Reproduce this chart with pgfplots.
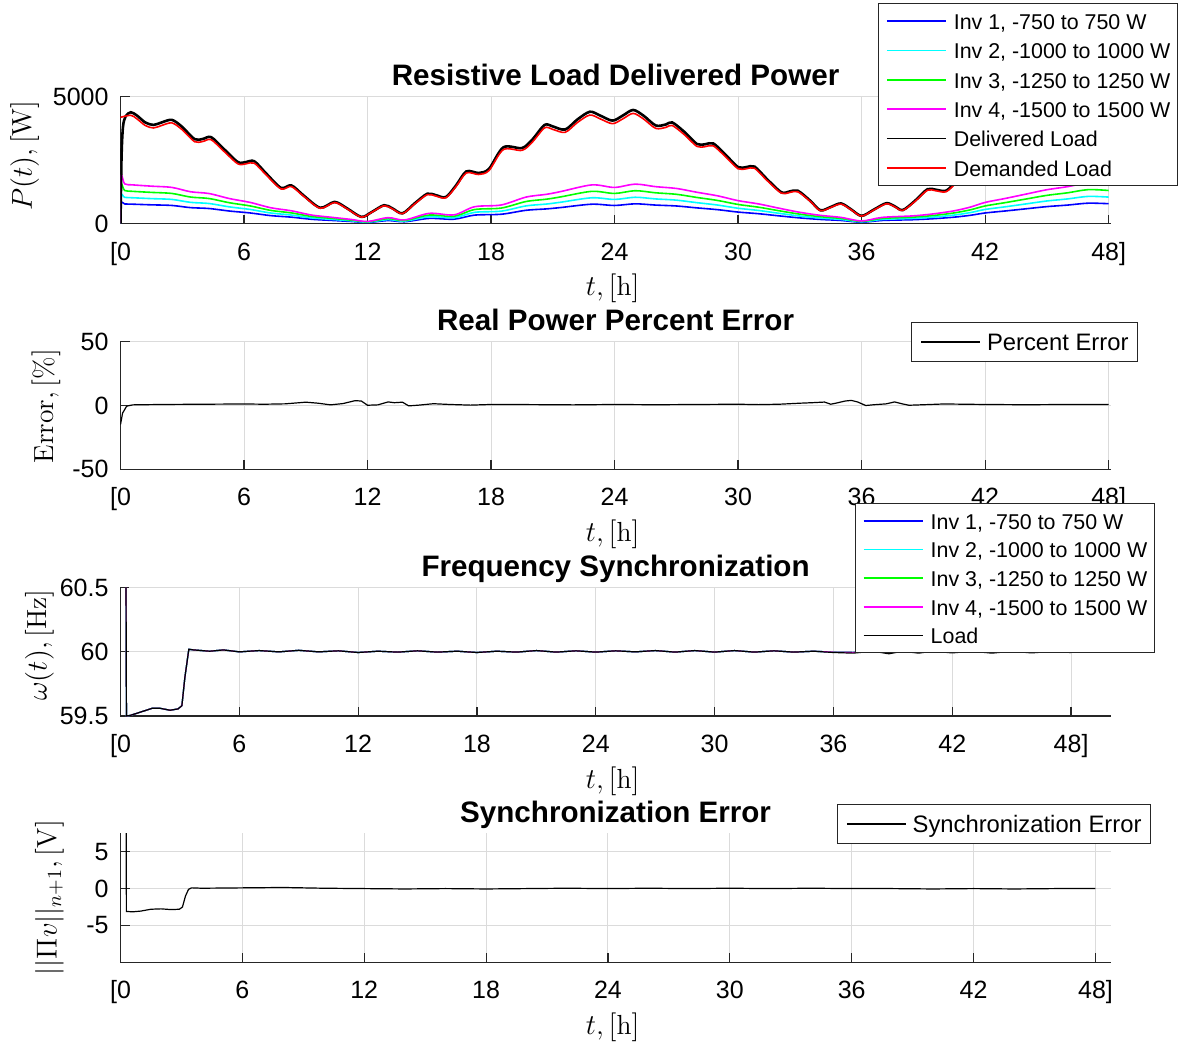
\documentclass[border=0pt]{standalone}
\usepackage{fontspec}
\usepackage{pgfplots}
\pgfplotsset{compat=1.18}
\usepackage{pgfplotstable}
\newfontfamily\lsans{Liberation Sans}
\newcommand\tickfont{\lsans\fontsize{12.5}{14}\selectfont}
\newcommand\titlefont{\lsans\bfseries\fontsize{14.8}{17}\selectfont}
\newcommand\legfontA{\lsans\fontsize{10.7}{13}\selectfont}
\newcommand\legfontB{\lsans\fontsize{11.9}{14}\selectfont}
\newcommand\labfont{\fontsize{13.8}{16}\selectfont}

\definecolor{axgray}{gray}{0.15}
\definecolor{cblue}{rgb}{0,0,1}
\definecolor{ccyan}{rgb}{0,1,1}
\definecolor{cgreen}{rgb}{0,1,0}
\definecolor{cmag}{rgb}{1,0,1}
\definecolor{cred}{rgb}{1,0,0}

\pgfplotsset{
  mystyle/.style={
    scale only axis, width=495.1pt,
    axis lines=left,
    axis line style={-, draw=axgray, line width=0.6pt},
    x axis line style={-}, y axis line style={-},
    tick align=inside, major tick length=4.5pt,
    tick style={draw=axgray, line width=0.6pt},
    grid=major, major grid style={draw=black!14, line width=0.5pt},
    xmin=0, xtick={0,6,12,18,24,30,36,42,48},
    xticklabels={{[0},6,12,18,24,30,36,42,{48]}},
    xticklabel style={font=\tickfont, anchor=base, yshift=-18.25pt, inner sep=0pt},
    yticklabel style={font=\tickfont, anchor=east, xshift=-5.8pt, inner sep=0pt},
    xlabel={$t, [\mathrm{h}]$},
    xlabel style={font=\labfont, at={(axis description cs:0.5,0)}, anchor=base, yshift=-36pt, xshift=-1.5pt},
    ylabel style={font=\labfont, anchor=center},
    title style={font=\titlefont, at={(0.5,1)}, anchor=base, yshift=-0.5pt},
    anchor=south west,
    legend cell align=left,
    legend image code/.code={\draw[#1, line width=0.8pt] (0pt,0pt) -- (29.5pt,0pt);},
  },
  legA/.style={legend style={font=\legfontA, draw=axgray, line width=0.5pt, fill=white,
     inner xsep=3.6pt, inner ysep=2.5pt, row sep=2.2pt, column sep=3.6pt,
     nodes={inner sep=0pt, text height=10.4pt, text depth=2.1pt}}},
  legB/.style={legend style={font=\legfontB, draw=axgray, line width=0.5pt, fill=white,
     inner xsep=4.5pt, inner ysep=2.5pt, column sep=3pt,
     nodes={inner sep=0pt, text height=11.5pt, text depth=3.0pt}}},
}

% ---------------- Panel 1 data ----------------
\pgfplotstableread{
t v
0 0
0.05 2600
0.12 3800
0.25 4220
0.5 4380
0.8 4250
1.2 3980
1.6 3880
2.0 3980
2.5 4080
3.0 3800
3.6 3320
4.0 3330
4.4 3400
5.0 2950
5.7 2420
6.1 2420
6.5 2450
7.1 1950
7.8 1400
8.3 1500
8.9 1100
9.7 620
10.4 850
11.0 600
11.7 260
12.2 450
12.8 720
13.2 600
13.7 400
14.3 800
14.9 1170
15.3 1120
15.8 1040
16.3 1500
16.8 2050
17.4 1990
17.9 2150
18.6 3000
19.5 2970
20.0 3300
20.6 3880
21.0 3820
21.6 3700
22.2 4100
22.8 4400
23.3 4250
23.9 4050
24.4 4250
24.9 4470
25.4 4250
26.0 3860
26.5 3900
26.8 3980
27.4 3600
28.0 3130
28.4 3120
28.8 3150
29.4 2700
30.0 2220
30.4 2220
30.8 2240
31.4 1750
32.1 1230
32.5 1260
32.9 1290
33.5 900
34.0 520
34.5 650
35.0 790
35.5 550
36.0 300
36.6 550
37.2 800
37.6 680
38.0 530
38.6 900
39.2 1350
39.6 1330
40.1 1290
40.6 1650
41.2 2050
41.7 2000
42.1 2000
42.6 2500
43.2 2950
43.7 2900
44.1 3000
44.7 3500
45.2 3800
45.7 3700
46.1 3700
46.7 4100
47.2 4350
47.6 4250
48.0 4150
}\delivered

\pgfplotstableread{
t v
0 4180
0.5 4260
0.8 4120
1.2 3860
1.6 3760
2.0 3860
2.5 3960
3.0 3690
3.6 3220
4.0 3230
4.4 3300
5.0 2860
5.7 2350
6.1 2350
6.5 2375
7.1 1890
7.8 1360
8.3 1455
8.9 1070
9.7 600
10.4 825
11.0 580
11.7 250
12.2 440
12.8 700
13.2 580
13.7 390
14.3 775
14.9 1135
15.3 1085
15.8 1010
16.3 1455
16.8 1990
17.4 1930
17.9 2085
18.6 2910
19.5 2880
20.0 3200
20.6 3765
21.0 3705
21.6 3590
22.2 3980
22.8 4270
23.3 4120
23.9 3930
24.4 4120
24.9 4335
25.4 4120
26.0 3745
26.5 3785
26.8 3860
27.4 3490
28.0 3035
28.4 3025
28.8 3055
29.4 2620
30.0 2155
30.4 2155
30.8 2175
31.4 1700
32.1 1195
32.5 1220
32.9 1250
33.5 875
34.0 505
34.5 630
35.0 765
35.5 535
36.0 290
36.6 535
37.2 775
37.6 660
38.0 515
38.6 875
39.2 1310
39.6 1290
40.1 1250
40.6 1600
41.2 1990
41.7 1940
42.1 1940
42.6 2425
43.2 2860
43.7 2815
44.1 2910
44.7 3395
45.2 3685
45.7 3590
46.1 3590
46.7 3975
47.2 4220
47.6 4120
48.0 4025
}\demanded

\pgfplotstableread{
t  b    c    g    m
0    0    0    0    0
0.03 800  1100 1500 1850
0.2  770  1030 1300 1560
0.6  760  1013 1266 1520
1.5  735  980  1225 1470
2.5  710  947  1183 1420
3.4  625  833  1041 1250
4.3  590  787  983  1180
5.3  490  653  816  980
6.3  415  553  691  830
7.3  310  413  516  620
8.3  250  333  417  500
9.3  165  220  275  330
10.3 120  160  200  240
11.2 80   107  133  160
12.0 40   53   67   80
13.0 115  153  192  230
13.8 70   93   117  140
15.0 200  267  333  400
16.2 170  227  283  340
17.2 330  440  550  660
18.5 365  487  608  730
19.7 520  693  866  1040
20.7 575  767  958  1150
21.4 630  840  1050 1260
22.9 760  1013 1266 1520
24.0 710  947  1183 1420
25.0 775  1033 1291 1550
26.0 725  967  1208 1450
27.0 690  920  1150 1380
28.0 615  820  1025 1230
29.0 545  727  908  1090
30.0 450  600  750  900
31.0 385  513  641  770
32.0 300  400  500  600
33.0 220  293  367  440
34.0 160  213  267  320
35.0 120  160  200  240
36.0 50   67   83   100
37.0 120  160  200  240
38.5 150  200  250  300
39.5 190  253  317  380
40.5 250  333  417  500
41.3 325  433  541  650
42.0 415  553  691  830
43.0 495  660  825  990
44.0 580  773  966  1160
45.0 665  887  1108 1330
46.0 725  967  1208 1450
47.0 800  1067 1333 1600
48.0 780  1040 1300 1560
}\inverters

% ---------------- Panel 2 data ----------------
\pgfplotstableread{
t e
0 -15
0.1 -6
0.3 -0.5
0.6 0.5
2 0.8
4 1.0
6 1.2
7 1.0
8 1.3
9.0 2.6
9.6 1.8
10.2 0.5
10.8 1.5
11.4 3.8
11.7 3.5
12.0 0.2
12.5 0.5
13.0 2.8
13.3 2.2
13.7 2.6
14.0 -0.3
14.5 0.3
15.2 1.4
16.0 0.8
17 0.3
18 0.8
20 0.7
22 0.5
24 0.8
26 0.6
28 0.8
30 1.0
31 0.7
32 1.0
33 1.8
33.6 2.2
34.2 2.7
34.5 1.0
34.8 2.0
35.2 3.5
35.5 4.0
35.8 2.8
36.2 0.0
36.6 0.6
37.2 1.3
37.6 2.8
38.0 1.2
38.3 0.2
39 0.6
40 1.2
42 0.8
44 0.6
46 0.8
48 0.8
}\perr

% ---------------- Panel 3 data ----------------
\pgfplotstableread{
t w
0.27 61.0
0.3 59.5
0.5 59.505
1.0 59.53
1.6 59.56
2.0 59.56
2.5 59.545
2.9 59.555
3.1 59.58
3.25 59.8
3.45 60.02
3.7 60.015
4.5 60.005
5.2 60.015
6 60.0
7 60.01
8 60.0
9 60.012
10 60.0
11 60.008
12 59.995
13 60.005
14 59.998
15 60.008
16 59.998
17 60.005
18 59.995
19 60.005
20 59.998
21 60.01
22 59.998
23 60.008
24 59.998
25 60.008
26 60.0
27 60.01
28 59.998
29 60.01
30 59.998
31 60.01
32 59.998
33 60.008
34 59.998
35 60.005
36 59.995
37 59.99
38 60.005
38.8 59.985
39.5 60.005
40.3 59.99
41 60.005
42 59.992
43 60.005
44 59.99
45 60.005
46 59.992
47 60.003
48 59.995
}\freqload

\pgfplotstableread{
t w
0.27 61.0
0.3 59.5
0.5 59.505
1.0 59.53
1.6 59.56
2.0 59.56
2.5 59.545
2.9 59.555
3.1 59.58
3.25 59.8
3.45 60.02
3.7 60.015
4.5 60.005
5.2 60.015
6 60.0
7 60.01
8 60.0
9 60.012
10 60.0
11 60.008
12 59.995
13 60.005
14 59.998
15 60.008
16 59.998
17 60.005
18 59.995
19 60.005
20 59.998
21 60.01
22 59.998
23 60.008
24 59.998
25 60.008
26 60.0
27 60.01
28 59.998
29 60.01
30 59.998
31 60.01
32 59.998
33 60.008
34 59.998
35 60.005
36 59.998
37 59.996
38 60.005
38.8 59.995
39.5 60.005
40.3 59.996
41 60.005
42 59.997
43 60.005
44 59.996
45 60.005
46 59.997
47 60.003
48 59.998
}\freqinv

% ---------------- Panel 4 data ----------------
\pgfplotstableread{
t s
0.27 20
0.29 -3.1
0.6 -3.15
1.0 -3.05
1.5 -2.8
2.0 -2.75
2.5 -2.85
2.9 -2.8
3.05 -2.5
3.2 -1.0
3.35 -0.1
3.5 0.1
4 0.05
6 0.1
8 0.15
10 0.05
12 0.0
14 -0.05
16 0.0
18 -0.05
20 0.0
22 0.05
24 0.0
26 0.05
28 0.0
30 0.05
32 0.0
34 0.05
36 0.0
38 0.0
40 -0.05
42 0.0
44 -0.05
46 0.0
48 0.0
}\syncerr

\begin{document}
\begin{tikzpicture}
\path[use as bounding box] (0,0) rectangle (589.5pt,-522pt);

% ===== Panel 1 =====
\begin{axis}[mystyle, legA,
  at={(60.25pt,-111.75pt)}, height=63.5pt,
  xmax=48.1, ymin=0, ymax=5000,
  ytick={0,5000}, yticklabels={0,5000},
  title={Resistive Load Delivered Power},
  ylabel={$P(t), [\mathrm{W}]$},
  ylabel style={at={(axis description cs:-0.0969,0.535)}},
  legend style={at={(1.068,1.736)}, anchor=north east},
]
\addplot[cblue, line width=0.8pt, smooth, tension=0.5] table[x=t, y=b] {\inverters};
\addlegendentry{Inv 1, -750 to 750 W}
\addplot[ccyan, line width=0.8pt, smooth, tension=0.5] table[x=t, y=c] {\inverters};
\addlegendentry{Inv 2, -1000 to 1000 W}
\addplot[cgreen, line width=0.8pt, smooth, tension=0.5] table[x=t, y=g] {\inverters};
\addlegendentry{Inv 3, -1250 to 1250 W}
\addplot[cmag, line width=0.8pt, smooth, tension=0.5] table[x=t, y=m] {\inverters};
\addlegendentry{Inv 4, -1500 to 1500 W}
\addplot[black, line width=1.3pt, smooth, tension=0.5] table[x=t, y=v] {\delivered};
\addlegendentry{Delivered Load}
\addplot[cred, line width=0.8pt, smooth, tension=0.5] table[x=t, y=v] {\demanded};
\addlegendentry{Demanded Load}
\end{axis}

% ===== Panel 2 =====
\begin{axis}[mystyle, legB,
  at={(60.25pt,-234.65pt)}, height=63.8pt,
  xmax=48.1, ymin=-50, ymax=50,
  ytick={-50,0,50}, yticklabels={-50,0,50},
  title={Real Power Percent Error},
  ylabel={$\mathrm{Error}, [\%]$},
  ylabel style={at={(axis description cs:-0.0752,0.496)}},
  legend style={at={(1.0276,1.154)}, anchor=north east},
]
\addplot[black, line width=0.6pt] table[x=t, y=e] {\perr};
\addlegendentry{Percent Error}
\end{axis}

% ===== Panel 3 =====
\begin{axis}[mystyle, legA,
  at={(60.25pt,-358pt)}, height=64.15pt,
  xmax=50, ymin=59.5, ymax=60.5,
  ytick={59.5,60,60.5}, yticklabels={59.5,60,60.5},
  title={Frequency Synchronization},
  ylabel={$\omega(t), [\mathrm{Hz}]$},
  ylabel style={at={(axis description cs:-0.0818,0.553)}},
  legend style={at={(1.0447,1.660)}, anchor=north east, row sep=1.8pt},
]
\addplot[cblue, line width=0.6pt] table[x=t, y=w] {\freqinv};
\addlegendentry{Inv 1, -750 to 750 W}
\addplot[ccyan, line width=0.6pt] table[x=t, y=w] {\freqinv};
\addlegendentry{Inv 2, -1000 to 1000 W}
\addplot[cgreen, line width=0.6pt] table[x=t, y=w] {\freqinv};
\addlegendentry{Inv 3, -1250 to 1250 W}
\addplot[cmag, line width=0.6pt] table[x=t, y=w] {\freqinv};
\addlegendentry{Inv 4, -1500 to 1500 W}
\addplot[black, line width=0.6pt] table[x=t, y=w] {\freqload};
\addlegendentry{Load}
\end{axis}

% ===== Panel 4 =====
\begin{axis}[mystyle, legB,
  at={(60.25pt,-481.15pt)}, height=64.5pt,
  xmax=48.75, ymin=-10, ymax=7.5,
  ytick={-5,0,5}, yticklabels={-5,0,5},
  title={Synchronization Error},
  ylabel={$||\Pi v||_{n+1}, [\mathrm{V}]$},
  ylabel style={at={(axis description cs:-0.0717,0.502)}},
  legend style={at={(1.0407,1.227)}, anchor=north east},
]
\addplot[black, line width=0.6pt] table[x=t, y=s] {\syncerr};
\addlegendentry{Synchronization Error}
\end{axis}
\end{tikzpicture}
\end{document}
